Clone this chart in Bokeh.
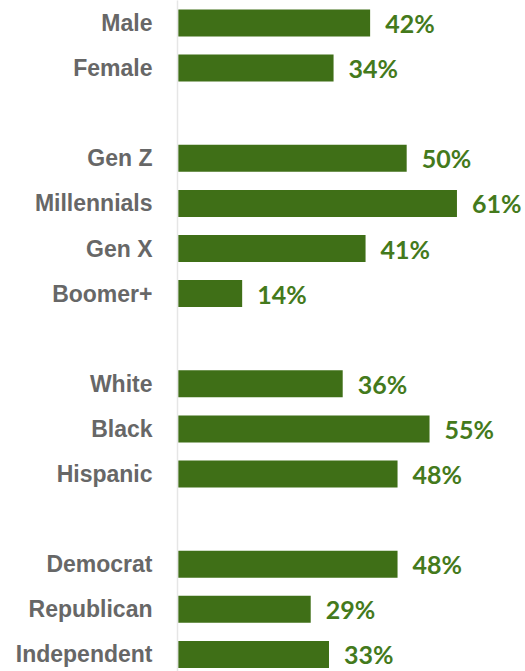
from bokeh.plotting import figure
from bokeh.models import Range1d, FixedTicker, ColumnDataSource
from bokeh.core.properties import value
from bokeh.embed import file_html
from bokeh.resources import INLINE

group_gender = ["Male", "Female"]
vals_gender = [42, 34]
group_gen = ["Gen Z", "Millennials", "Gen X", "Boomer+"]
vals_gen = [50, 61, 41, 14]
group_race = ["White", "Black", "Hispanic"]
vals_race = [36, 55, 48]
group_party = ["Democrat", "Republican", "Independent"]
vals_party = [48, 29, 33]

groups = [group_gender, group_gen, group_race, group_party]
group_values = [vals_gender, vals_gen, vals_race, vals_party]

cats, vals, pos = [], [], []
slot = 0
for g, v in zip(groups, group_values):
    for c, x in zip(g, v):
        cats.append(c)
        vals.append(x)
        pos.append(slot)
        slot += 1
    slot += 1  # blank row between groups

labels = [f"{x}%" for x in vals]
src = ColumnDataSource(dict(y=pos, right=vals, label=labels))

BAR = "#3f6f17"
row_px = 45.1
top_px = 22.5
H, W = 671, 525
LEFT = 177
px_per = 4.57

p = figure(width=W, height=H, output_backend="svg", toolbar_location=None,
           x_range=Range1d(-0.15, (W - LEFT) / px_per - 0.15),
           y_range=Range1d((H - top_px) / row_px, -top_px / row_px),
           x_axis_location=None, min_border=0, min_border_left=LEFT)
p.outline_line_color = None
p.grid.visible = False
p.background_fill_color = "white"
p.border_fill_color = "white"

p.hbar(y="y", right="right", left=0, height=27 / row_px, source=src,
       fill_color=BAR, line_color=None)
p.text(x="right", y="y", text="label", source=src, x_offset=15,
       text_baseline="middle", text_align="left",
       text_font=value("Lato"), text_font_style="bold",
       text_font_size="25px", text_color="#447a1c")

ax = p.yaxis[0]
ax.ticker = FixedTicker(ticks=pos)
ax.major_label_overrides = {pp: c for pp, c in zip(pos, cats)}
ax.major_tick_line_color = None
ax.minor_tick_line_color = None
ax.axis_line_color = "#e6e6e6"
ax.axis_line_width = 1.5
ax.major_label_standoff = 19
ax.major_label_text_font = "Liberation Sans"
ax.major_label_text_font_style = "bold"
ax.major_label_text_font_size = "23px"
ax.major_label_text_color = "#676767"

open("out.html", "w").write(file_html(p, INLINE))
